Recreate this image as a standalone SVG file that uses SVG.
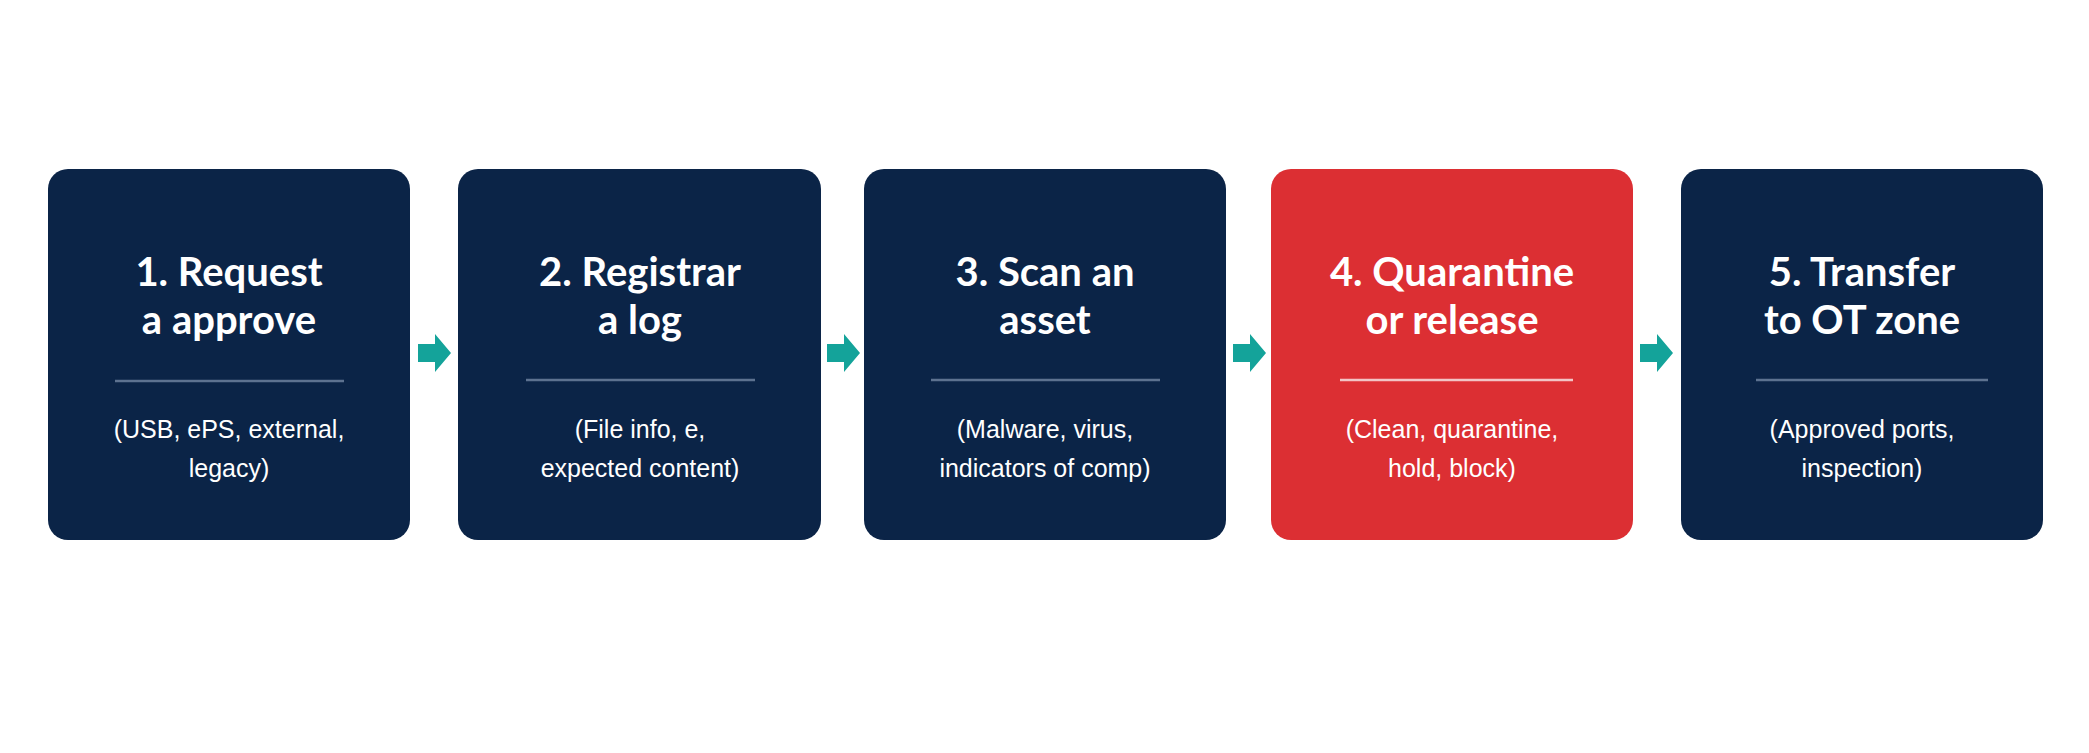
<svg xmlns="http://www.w3.org/2000/svg" width="2089" height="753" viewBox="0 0 2089 753">
<defs><style>
.n{fill:#0b2447}.r{fill:#dc2f33}
.t{font-family:Lato,"Liberation Sans",sans-serif;font-weight:bold;font-size:40px;fill:#fff;text-anchor:middle}
.s{font-family:"Liberation Sans Narrow","Liberation Sans",sans-serif;font-size:25px;fill:#fff;text-anchor:middle}
.l{stroke:#5d7290;stroke-width:2.5}.lr{stroke:#f2c4c5;stroke-width:2.5}
.a{fill:#14a39a}
</style></defs>
<rect width="2089" height="753" fill="#fff"/>
<g id="n1"><rect class="n" x="48" y="169" width="362" height="371" rx="20"/><text class="t" x="229" y="286">1. Request</text><text class="t" x="229" y="334">a approve</text><line class="l" x1="115" y1="381" x2="344" y2="381"/><text class="s" x="229" y="438">(USB, ePS, external,</text><text class="s" x="229" y="477">legacy)</text></g>
<g id="n2"><rect class="n" x="458" y="169" width="363" height="371" rx="20"/><text class="t" x="640" y="286">2. Registrar</text><text class="t" x="640" y="334">a log</text><line class="l" x1="526" y1="380" x2="755" y2="380"/><text class="s" x="640" y="438">(File info, e,</text><text class="s" x="640" y="477">expected content)</text></g>
<g id="n3"><rect class="n" x="864" y="169" width="362" height="371" rx="20"/><text class="t" x="1045" y="286">3. Scan an</text><text class="t" x="1045" y="334">asset</text><line class="l" x1="931" y1="380" x2="1160" y2="380"/><text class="s" x="1045" y="438">(Malware, virus,</text><text class="s" x="1045" y="477">indicators of comp)</text></g>
<g id="n4"><rect class="r" x="1271" y="169" width="362" height="371" rx="20"/><text class="t" x="1452" y="286">4. Quarantine</text><text class="t" x="1452" y="334">or release</text><line class="lr" x1="1340" y1="380" x2="1573" y2="380"/><text class="s" x="1452" y="438">(Clean, quarantine,</text><text class="s" x="1452" y="477">hold, block)</text></g>
<g id="n5"><rect class="n" x="1681" y="169" width="362" height="371" rx="20"/><text class="t" x="1862" y="286">5. Transfer</text><text class="t" x="1862" y="334">to OT zone</text><line class="l" x1="1756" y1="380" x2="1988" y2="380"/><text class="s" x="1862" y="438">(Approved ports,</text><text class="s" x="1862" y="477">inspection)</text></g>
<g id="connectors">
<path class="a" d="M418 344h17v-10l16 19l-16 19v-10h-17z"/>
<path class="a" d="M827 344h17v-10l16 19l-16 19v-10h-17z"/>
<path class="a" d="M1233 344h17v-10l16 19l-16 19v-10h-17z"/>
<path class="a" d="M1640 344h17v-10l16 19l-16 19v-10h-17z"/>
</g>
</svg>
